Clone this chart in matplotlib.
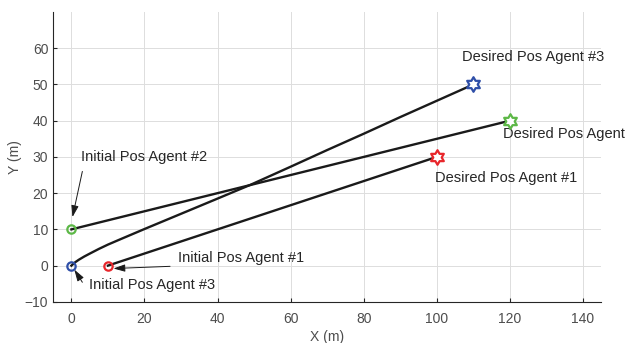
import numpy as np
import matplotlib.pyplot as plt
from matplotlib.path import Path

plt.rcParams['font.family'] = ['Liberation Sans', 'DejaVu Sans']

# trajectories
agent1_x = [10, 100]
agent1_y = [0, 30]
agent2_x = [0, 120]
agent2_y = [10, 40]
agent3_x = [0, 1, 2, 3.5, 5, 7.5, 10, 13, 16.5, 20, 25, 30, 35, 40, 49, 60, 70, 80, 90, 100, 110]
agent3_y = [0, 0.9, 1.6, 2.5, 3.3, 4.6, 5.8, 7.1, 8.6, 10.1, 12.2, 14.3, 16.4, 18.5, 22.3,
            27.3, 31.9, 36.4, 41.0, 45.5, 50]

init_pos = [(10, 0), (0, 10), (0, 0)]
goal_pos = [(100, 30), (120, 40), (110, 50)]
colors = ['#e8262b', '#5db847', '#2f4fa8']

# label text, text position, arrow tail, arrow head
init_labels = ['Initial Pos Agent #1', 'Initial Pos Agent #2', 'Initial Pos Agent #3']
init_text_xy = [(29.3, 2.2), (2.7, 30.1), (4.9, -5.3)]
init_arrow_tail = [(27, -0.2), (3, 26), (3, -4.6)]
init_arrow_head = [(11.5, -0.8), (0.3, 13.4), (0.8, -1.1)]
goal_labels = ['Desired Pos Agent #1', 'Desired Pos Agent #2', 'Desired Pos Agent #3']
goal_text_xy = [(99.5, 24.1), (118.2, 36.4), (106.8, 57.6)]

# hexagram marker (MATLAB 'h')
ang = np.deg2rad(90 + 30 * np.arange(12))
rad = np.where(np.arange(12) % 2 == 0, 1.0, 1 / np.sqrt(3))
verts = np.column_stack([rad * np.cos(ang), rad * np.sin(ang)])
verts = np.vstack([verts, verts[:1]])
hexagram = Path(verts, [Path.MOVETO] + [Path.LINETO] * 11 + [Path.CLOSEPOLY])

fig = plt.figure(figsize=(6.25, 3.43), dpi=100)
ax = fig.add_axes([0.085, 0.12, 0.877, 0.845])

for xs, ys in [(agent1_x, agent1_y), (agent2_x, agent2_y), (agent3_x, agent3_y)]:
    ax.plot(xs, ys, color='#1a1a1a', lw=1.7, zorder=3, solid_joinstyle='round')

for (x0, y0), (x1, y1), c in zip(init_pos, goal_pos, colors):
    ax.plot(x0, y0, 'o', ms=6, mfc='none', mec=c, mew=1.6, zorder=4)
    ax.plot(x1, y1, marker=hexagram, ms=10.5, mfc='white', mec=c, mew=1.6, zorder=4)

for lab, txy, tail, head in zip(init_labels, init_text_xy, init_arrow_tail, init_arrow_head):
    ax.text(txy[0], txy[1], lab, ha='left', va='center', fontsize=10.5, color='#262626')
    ax.annotate('', xy=head, xytext=tail,
                arrowprops=dict(arrowstyle='-|>,head_length=0.7,head_width=0.22',
                                color='#1a1a1a', lw=0.7, shrinkA=0, shrinkB=0))

for lab, txy in zip(goal_labels, goal_text_xy):
    ax.text(txy[0], txy[1], lab, ha='left', va='center', fontsize=10.5, color='#262626',
            clip_on=False)

ax.set_xlim(-5, 145)
ax.set_ylim(-10, 70)
ax.set_xticks(np.arange(0, 141, 20))
ax.set_yticks(np.arange(-10, 61, 10))
ax.grid(True, color='#dddddd', lw=0.7)
ax.set_axisbelow(True)
for s in ['top', 'right']:
    ax.spines[s].set_visible(False)
for s in ['left', 'bottom']:
    ax.spines[s].set_color('#262626')
    ax.spines[s].set_linewidth(0.8)
ax.tick_params(direction='in', length=3, labelsize=10, colors='#262626', labelcolor='#4d4d4d')
ax.tick_params(axis='x', pad=7)
ax.set_xlabel('X (m)', fontsize=10, color='#4d4d4d', labelpad=3)
ax.set_ylabel('Y (m)', fontsize=10, color='#4d4d4d', labelpad=2)

fig.savefig('out.png', dpi=100)
